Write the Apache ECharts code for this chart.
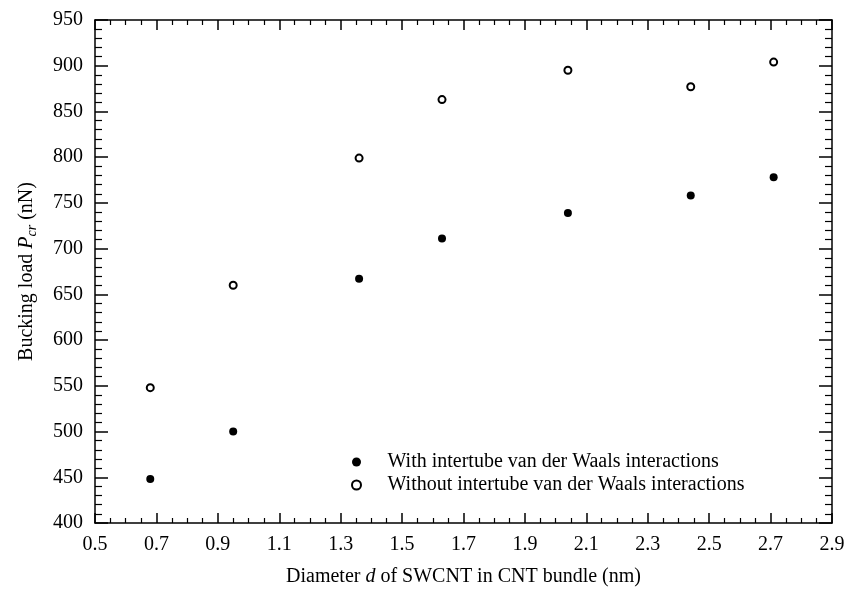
<!DOCTYPE html>
<html>
<head>
<meta charset="utf-8">
<script src="https://cdn.jsdelivr.net/npm/echarts@6/dist/echarts.min.js"></script>
<style>
  html, body { margin: 0; padding: 0; background: #fff; }
  #chart { width: 850px; height: 592px; }
</style>
</head>
<body>
<div id="chart"></div>
<script>
// diameter of SWCNT (nm)
const diameters = [0.68, 0.95, 1.36, 1.63, 2.04, 2.44, 2.71]
// buckling load with vdW interactions (nN)
const withVdw = [448, 500, 667, 711, 739, 758, 778]
// buckling load without vdW interactions (nN)
const withoutVdw = [548, 660, 799, 863, 895, 877, 904]

const seriesNames = [
  'With intertube van der Waals interactions',
  'Without intertube van der Waals interactions',
]

const font = 'Liberation Serif, Times New Roman, serif'
const black = '#000'

const chart = echarts.init(document.getElementById('chart'))

function pairs(xs, ys) {
  return xs.map((x, i) => [x, ys[i]])
}

const xBase = {
  type: 'value',
  min: 0.5,
  max: 2.9,
  interval: 0.2,
  splitLine: { show: false },
  axisLine: { onZero: false, lineStyle: { color: black, width: 1.5 } },
  axisTick: { inside: true, length: 10, lineStyle: { color: black, width: 1.5 } },
  minorTick: { show: true, splitNumber: 4, length: 5, lineStyle: { color: black, width: 1.2 } },
}

const yBase = {
  type: 'value',
  min: 400,
  max: 950,
  interval: 50,
  splitLine: { show: false },
  axisLine: { onZero: false, lineStyle: { color: black, width: 1.5 } },
  axisTick: { inside: true, length: 13, lineStyle: { color: black, width: 1.5 } },
  minorTick: { show: true, splitNumber: 5, length: 7, lineStyle: { color: black, width: 1.2 } },
}

chart.setOption({
  backgroundColor: '#fff',
  animation: false,
  textStyle: { fontFamily: font, color: black },
  grid: { left: 95, right: 18, top: 20, bottom: 66 },
  legend: {
    orient: 'vertical',
    left: 346,
    top: 447,
    itemWidth: 12,
    itemHeight: 9,
    itemGap: 3,
    textStyle: { fontFamily: font, fontSize: 20, color: black, padding: [0, 0, 0, 20] },
    data: [
      { name: seriesNames[0], icon: 'circle' },
      { name: seriesNames[1], icon: 'emptyCircle' },
    ],
  },
  xAxis: [
    {
      ...xBase,
      position: 'bottom',
      name: '{n|Diameter }{i|d}{n| of SWCNT in CNT bundle (nm)}',
      nameLocation: 'middle',
      nameGap: 44,
      nameTextStyle: {
        rich: {
          n: { fontFamily: font, fontSize: 20, color: black },
          i: { fontFamily: font, fontSize: 20, fontStyle: 'italic', color: black },
        },
      },
      axisLabel: {
        fontFamily: font,
        fontSize: 20,
        color: black,
        margin: 12,
        formatter: (v) => v.toFixed(1),
      },
    },
    {
      ...xBase,
      position: 'top',
      axisLabel: { show: false },
    },
  ],
  yAxis: [
    {
      ...yBase,
      position: 'left',
      name: '{n|Bucking load }{i|P}{s|cr}{n| (nN)}',
      nameLocation: 'middle',
      nameGap: 56,
      nameTextStyle: {
        rich: {
          n: { fontFamily: font, fontSize: 20, color: black, lineHeight: 24 },
          i: { fontFamily: font, fontSize: 20, fontStyle: 'italic', color: black, lineHeight: 24 },
          s: { fontFamily: font, fontSize: 14, fontStyle: 'italic', color: black, lineHeight: 24, verticalAlign: 'bottom', padding: [10, 0, 0, 0] },
        },
      },
      axisLabel: { fontFamily: font, fontSize: 20, color: black, margin: 12 },
    },
    {
      ...yBase,
      position: 'right',
      axisLabel: { show: false },
    },
  ],
  series: [
    {
      name: seriesNames[0],
      type: 'scatter',
      symbol: 'circle',
      symbolSize: 8,
      itemStyle: { color: black, opacity: 1 },
      data: pairs(diameters, withVdw),
    },
    {
      name: seriesNames[1],
      type: 'scatter',
      symbol: 'emptyCircle',
      symbolSize: 7,
      itemStyle: { color: black, borderColor: black, borderWidth: 1.5, opacity: 1 },
      data: pairs(diameters, withoutVdw),
    },
  ],
})
</script>
</body>
</html>
